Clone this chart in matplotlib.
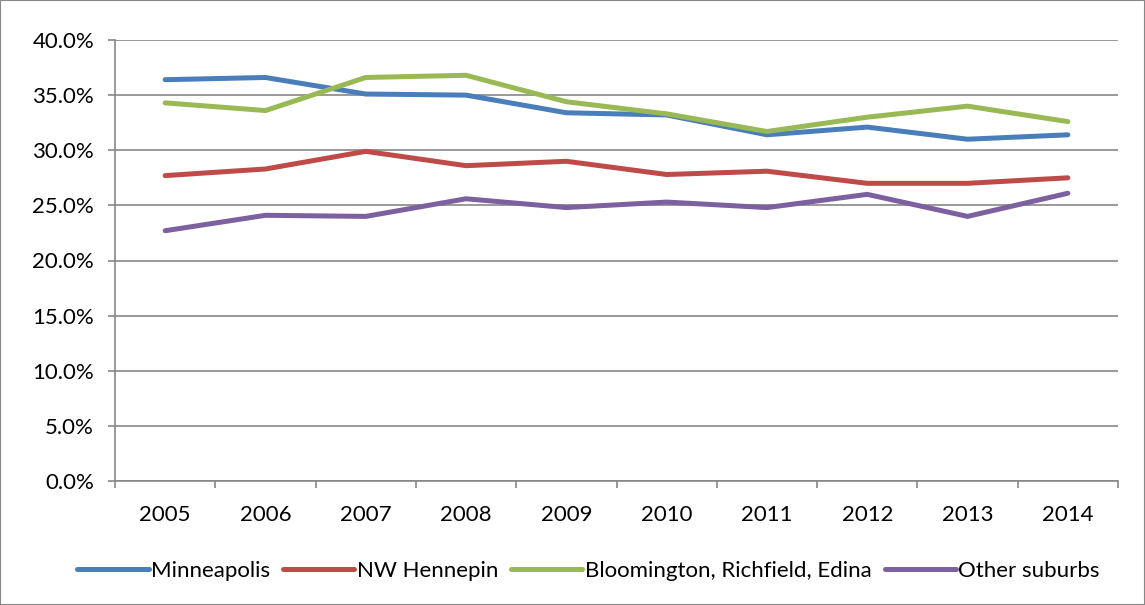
import matplotlib
matplotlib.use("Agg")
import matplotlib.pyplot as plt
from matplotlib.ticker import FuncFormatter, MultipleLocator, FixedLocator
from matplotlib.patches import Rectangle

years = [2005, 2006, 2007, 2008, 2009, 2010, 2011, 2012, 2013, 2014]
minneapolis = [36.4, 36.6, 35.1, 35.0, 33.4, 33.2, 31.4, 32.1, 31.0, 31.4]
nw_hennepin = [27.7, 28.3, 29.9, 28.6, 29.0, 27.8, 28.1, 27.0, 27.0, 27.5]
bre = [34.3, 33.6, 36.6, 36.8, 34.4, 33.3, 31.7, 33.0, 34.0, 32.6]
other_suburbs = [22.7, 24.1, 24.0, 25.6, 24.8, 25.3, 24.8, 26.0, 24.0, 26.1]

series = [
    ("Minneapolis", minneapolis, "#4A7EBB"),
    ("NW Hennepin", nw_hennepin, "#BE4B48"),
    ("Bloomington, Richfield, Edina", bre, "#98B954"),
    ("Other suburbs", other_suburbs, "#7D60A0"),
]

plt.rcParams["font.family"] = ["Lato", "DejaVu Sans"]

fig = plt.figure(figsize=(11.45, 6.05), dpi=100)
ax = fig.add_axes([115 / 1145, 124 / 605, 1003 / 1145, 441 / 605])

x = list(range(len(years)))
for name, vals, color in series:
    ax.plot(x, vals, color=color, lw=3.6, label=name, solid_capstyle="round")

grid_c = "#878787"
ax.set_ylim(0, 40)
ax.set_xlim(-0.5, len(years) - 0.5)
ax.yaxis.set_major_locator(MultipleLocator(5))
ax.yaxis.set_major_formatter(FuncFormatter(lambda v, p: f"{v:.1f}%"))
ax.grid(axis="y", color=grid_c, lw=1.2)
ax.set_axisbelow(True)

ax.set_xticks(x)
ax.set_xticklabels([str(y) for y in years])
ax.xaxis.set_minor_locator(FixedLocator([i - 0.5 for i in range(len(years) + 1)]))
ax.tick_params(axis="x", which="major", length=0, pad=17, labelsize=16)
ax.tick_params(axis="x", which="minor", length=5, color=grid_c, width=1.2)
ax.tick_params(axis="y", length=5, color=grid_c, width=1.2, labelsize=16, pad=10)

for s in ["top", "right"]:
    ax.spines[s].set_visible(False)
for s in ["left", "bottom"]:
    ax.spines[s].set_color(grid_c)
    ax.spines[s].set_linewidth(1.2)

# legend row under the plot
fig.legend(loc="center", bbox_to_anchor=(0.514, 1 - 571 / 605), ncol=4,
           frameon=False, fontsize=16, handlelength=3.2, handletextpad=0.1,
           columnspacing=0.6)

fig.patches.append(Rectangle((0, 0), 1, 1, transform=fig.transFigure,
                             fill=False, edgecolor=grid_c, lw=1.5))

fig.savefig("out.png", dpi=100)
